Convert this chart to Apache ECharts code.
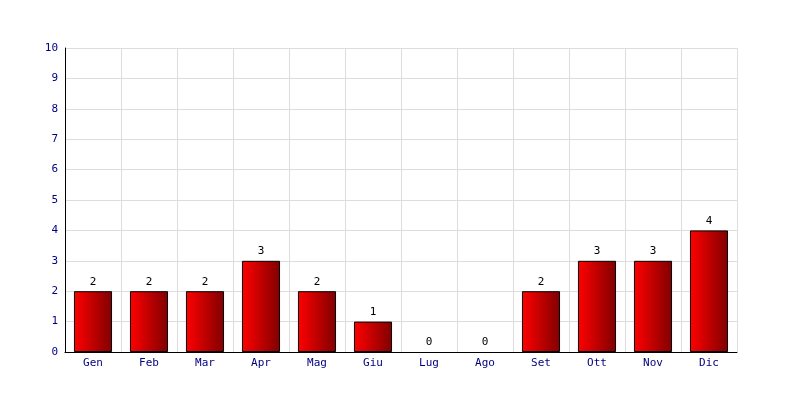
<!DOCTYPE html>
<html><head><meta charset="utf-8">
<script src="https://cdn.jsdelivr.net/npm/echarts@6/dist/echarts.min.js"></script>
<style>html,body{margin:0;padding:0;background:#fff}#c{width:800px;height:400px}</style>
</head><body><div id="c"></div>
<script>
const categories = ['Gen','Feb','Mar','Apr','Mag','Giu','Lug','Ago','Set','Ott','Nov','Dic'];
const values = [2,2,2,3,2,1,0,0,2,3,3,4];
const yTicks = [0,1,2,3,4,5,6,7,8,9,10];

const chart = echarts.init(document.getElementById('c'));
const font = '"DejaVu Sans Mono", "Liberation Mono", monospace';
chart.setOption({
  animation: false,
  backgroundColor: '#fff',
  grid: {left: 65, right: 63, top: 48, bottom: 48},
  xAxis: {
    type: 'category', data: categories,
    axisLine: {show: true, lineStyle: {color: '#000', width: 1}},
    axisTick: {show: false},
    axisLabel: {color: '#000080', fontFamily: font, fontSize: 11, margin: 6},
    splitLine: {show: true, lineStyle: {color: '#dddddd', width: 1}}
  },
  yAxis: {
    type: 'value', min: yTicks[0], max: yTicks[yTicks.length-1], interval: 1,
    axisLine: {show: true, lineStyle: {color: '#000', width: 1}},
    axisTick: {show: false},
    axisLabel: {color: '#000080', fontFamily: font, fontSize: 11, margin: 7},
    splitLine: {show: true, lineStyle: {color: '#dddddd', width: 1}}
  },
  series: [{
    type: 'bar',
    data: values.map(v => v === 0 ? {value: v, itemStyle: {borderWidth: 0, opacity: 0}} : v),
    barWidth: '68%',
    itemStyle: {
      borderColor: '#000', borderWidth: 1,
      color: new echarts.graphic.LinearGradient(0,0,1,0,[
        {offset:0, color:'#ff0000'},{offset:1, color:'#800000'}])
    },
    label: {show: true, position: 'top', distance: 4, color: '#000', fontFamily: font, fontSize: 11, opacity: 1}
  }]
});
</script></body></html>
